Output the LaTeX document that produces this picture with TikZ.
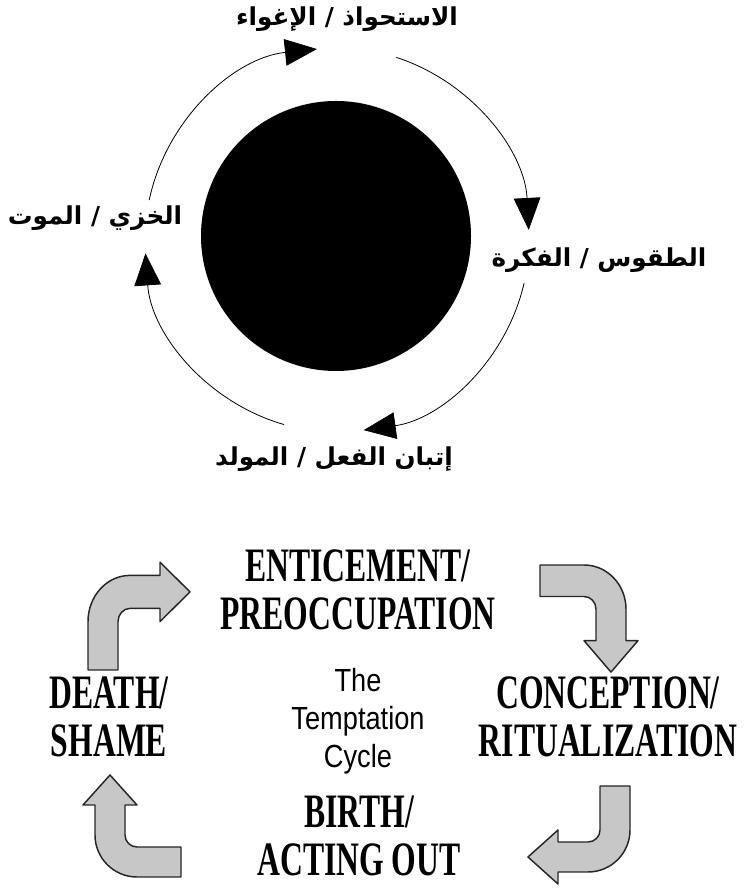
\documentclass[tikz,border=0pt]{standalone}
\usepackage{fontspec}
\usetikzlibrary{arrows.meta}
\TeXXeTstate=1
\newfontfamily\arabicfont[Script=Arabic]{DejaVu Sans}
\newfontfamily\stagefont[FakeStretch=0.66]{Liberation Serif}
\newfontfamily\titlefont[FakeStretch=0.85]{Liberation Sans}

\begin{document}
\begin{tikzpicture}[x=0.75pt, y=0.75pt,
        cyclearc/.style={line width=0.6pt, -{Triangle[length=24pt, width=20pt]}},
        bentarrow/.style={draw=black!85, line width=1.1pt, fill=black!22, line join=round},
        stagelabel/.style={align=center, inner sep=0pt,
            font=\stagefont\bfseries\fontsize{36}{36}\selectfont},
        arlabel/.style={inner sep=0pt, font=\arabicfont\bfseries\fontsize{18.5}{22}\selectfont}]

        \useasboundingbox (0,0) rectangle (747,888);

        % upper cycle
        \coordinate (C) at (337,648);
        \fill (336,652) circle[radius=135];
        \foreach \a/\b in {72/3, -13/-82, -106/-176, 168/96} {
            \draw[cyclearc] (C) ++(\a:192) arc[start angle=\a, end angle=\b, radius=192];
        }

        \node[arlabel] (enticeAr) at (347,869) {\beginR الاستحواذ / الإغواء\endR};
        \node[arlabel] (conceptAr) at (599,628) {\beginR الطقوس / الفكرة\endR};
        \node[arlabel] (birthAr) at (334,429) {\beginR إتبان الفعل / المولد\endR};
        \node[arlabel] (deathAr) at (95,670) {\beginR الخزي / الموت\endR};

        % lower cycle
        \foreach \x/\y/\r/\s in {88/218/0/1.1, 540/323/-90/1.05, 630/102/180/1.0, 181/11/90/1.0} {
            \draw[bentarrow, shift={(\x,\y)}, yscale=\s, rotate=\r]
                (0,0) -- (0,44) arc[start angle=180, end angle=90, radius=42]
                -- (72,86) -- (72,98) -- (102,71) -- (72,44) -- (72,56) -- (42,56)
                arc[start angle=90, end angle=180, radius=12] -- (30,0) -- cycle;
        }

        \node[stagelabel] (entice) at (358,298) {ENTICEMENT/\\PREOCCUPATION};
        \node[stagelabel] (concept) at (608,171) {CONCEPTION/\\RITUALIZATION};
        \node[stagelabel] (birth) at (359,52) {BIRTH/\\ACTING OUT};
        \node[stagelabel] (death) at (109,171) {DEATH/\\SHAME};
        \node[align=center, inner sep=0pt, font=\titlefont\fontsize{24}{28.5}\selectfont]
            (title) at (358,167) {The\\Temptation\\Cycle};
\end{tikzpicture}
\end{document}
